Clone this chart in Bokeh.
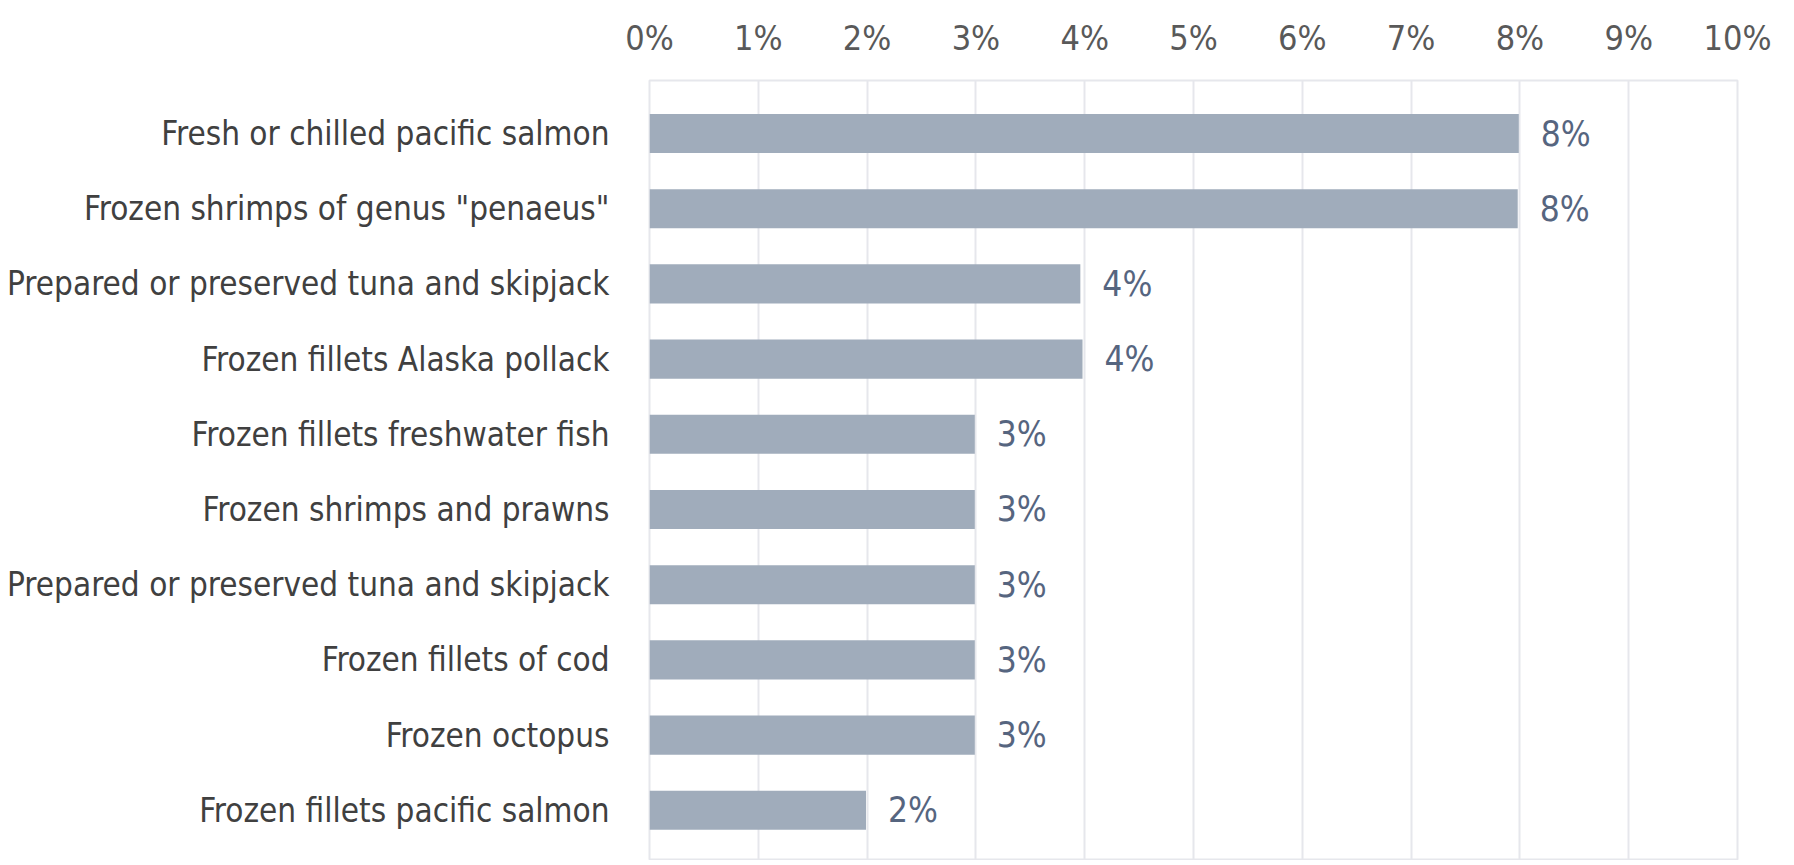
from bokeh.plotting import figure
from bokeh.models import Range1d, FixedTicker, PrintfTickFormatter, ColumnDataSource
from bokeh.core.properties import value
from bokeh.embed import file_html
from bokeh.resources import INLINE

categories = [
    "Fresh or chilled pacific salmon",
    "Frozen shrimps of genus \"penaeus\"",
    "Prepared or preserved tuna and skipjack",
    "Frozen fillets Alaska pollack",
    "Frozen fillets freshwater fish",
    "Frozen shrimps and prawns",
    "Prepared or preserved tuna and skipjack",
    "Frozen fillets of cod",
    "Frozen octopus",
    "Frozen fillets pacific salmon",
]
shares = [7.99, 7.98, 3.96, 3.98, 2.99, 2.99, 2.99, 2.99, 2.99, 1.99]
x_ticks = [0, 1, 2, 3, 4, 5, 6, 7, 8, 9, 10]

FONT = "DejaVu Sans Condensed"

pos = list(range(len(categories)))
src = ColumnDataSource(dict(
    y=pos, v=shares, lab=[f"{round(s)}%" for s in shares]
))

p = figure(width=1778, height=860, output_backend="svg", toolbar_location=None,
           x_range=Range1d(0, 10), y_range=Range1d(9.668, -0.705),
           x_axis_location="above",
           min_border_left=649, min_border_right=41, min_border_top=80, min_border_bottom=0)

p.hbar(y="y", right="v", left=0, height=0.52, source=src,
       fill_color="#A0ACBB", line_color=None)
p.text(x="v", y="y", text="lab", source=src, x_offset=22,
       text_baseline="middle", text_align="left",
       text_font=value(FONT), text_font_size="35px", text_color="#56657F")

xa = p.xaxis[0]
xa.ticker = FixedTicker(ticks=x_ticks)
xa.formatter = PrintfTickFormatter(format="%d%%")
xa.axis_line_color = None
xa.major_tick_line_color = None
xa.minor_tick_line_color = None
xa.major_label_text_font = FONT
xa.major_label_text_font_size = "34px"
xa.major_label_text_color = "#595959"
xa.major_label_standoff = 17

ya = p.yaxis[0]
ya.ticker = FixedTicker(ticks=pos)
ya.major_label_overrides = {i: c for i, c in enumerate(categories)}
ya.axis_line_color = None
ya.major_tick_line_color = None
ya.minor_tick_line_color = None
ya.major_label_text_font = FONT
ya.major_label_text_font_size = "33px"
ya.major_label_text_color = "#404040"
ya.major_label_standoff = 34

p.xgrid.grid_line_color = "#E6E7EC"
p.xgrid.grid_line_width = 2
p.ygrid.grid_line_color = None
p.outline_line_color = "#E6E7EC"
p.outline_line_width = 2
p.background_fill_color = "white"
p.border_fill_color = "white"

open("out.html", "w").write(file_html(p, INLINE))
